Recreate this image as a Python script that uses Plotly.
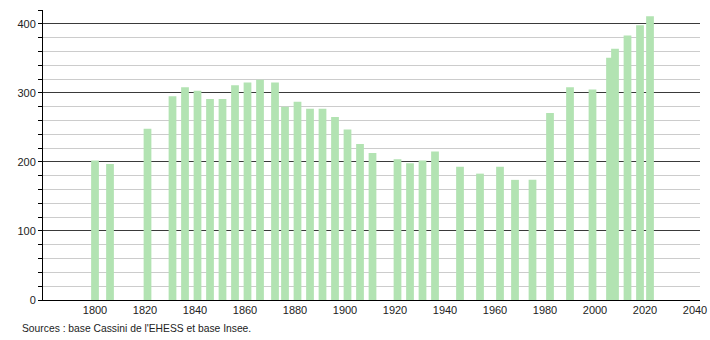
import plotly.graph_objects as go

years = [1800, 1806, 1821, 1831, 1836, 1841, 1846, 1851, 1856, 1861, 1866,
         1872, 1876, 1881, 1886, 1891, 1896, 1901, 1906, 1911, 1921, 1926,
         1931, 1936, 1946, 1954, 1962, 1968, 1975, 1982, 1990, 1999, 2006,
         2008, 2013, 2018, 2022]
population = [202, 197, 248, 295, 308, 303, 291, 291, 311, 315, 319,
              315, 280, 287, 277, 277, 265, 247, 226, 213, 204, 198,
              202, 215, 193, 183, 193, 174, 174, 271, 308, 305, 351,
              364, 383, 398, 411]
x_ticks = list(range(1800, 2041, 20))
y_ticks = [0, 100, 200, 300, 400]
source_text = "Sources : base Cassini de l'EHESS et base Insee."

font = "Liberation Sans, Arial, sans-serif"

fig = go.Figure()
fig.add_trace(go.Bar(
    x=years, y=population, width=3.1,
    marker=dict(color="#b2e3b2", line=dict(width=0)),
    hoverinfo="x+y",
))

fig.update_layout(
    width=710, height=340,
    margin=dict(l=43, r=10, t=10, b=40, autoexpand=False),
    plot_bgcolor="white", paper_bgcolor="white",
    showlegend=False,
    font=dict(family=font, size=11, color="#222"),
    xaxis=dict(
        range=[1779.2, 2042], tickvals=x_ticks, showgrid=False,
        showline=True, linecolor="black", linewidth=1, ticks="",
        zeroline=False, tickfont=dict(size=11, color="#222"),
        automargin=False,
    ),
    yaxis=dict(
        range=[0, 420], tickvals=y_ticks, showgrid=True,
        gridcolor="#3a3a3a", gridwidth=1,
        showline=True, linecolor="black", linewidth=1,
        ticks="outside", ticklen=4, tickcolor="black",
        zeroline=False, tickfont=dict(size=11, color="#222"),
        automargin=False,
        minor=dict(dtick=20, showgrid=True, gridcolor="#cccccc", gridwidth=1,
                   ticks="outside", ticklen=4, tickcolor="black"),
    ),
    annotations=[dict(
        text=source_text, xref="paper", yref="paper",
        x=-0.035, y=-0.097, xanchor="left", yanchor="middle",
        showarrow=False, font=dict(size=10.3, color="#222", family=font),
    )],
)

fig.write_html("out.html")
